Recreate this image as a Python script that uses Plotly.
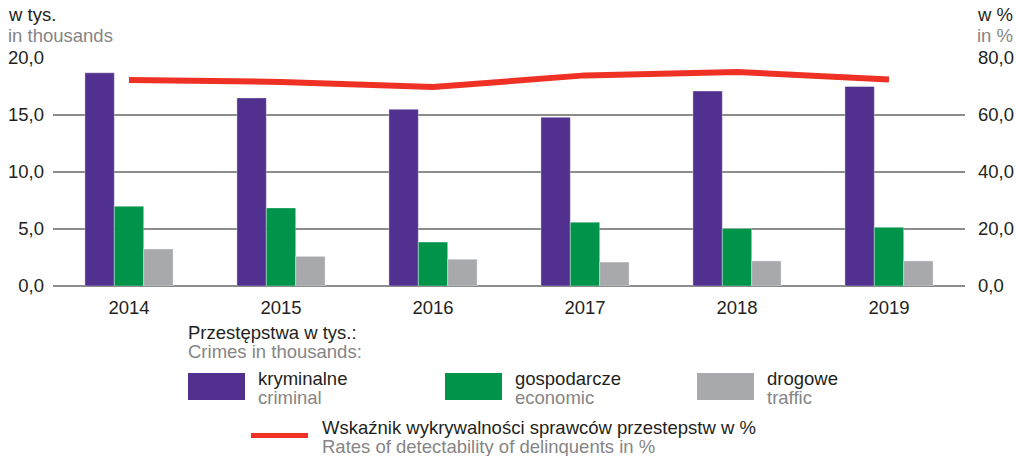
import plotly.graph_objects as go

years = ["2014", "2015", "2016", "2017", "2018", "2019"]
criminal = [18.7, 16.5, 15.5, 14.8, 17.1, 17.5]
economic = [7.0, 6.85, 3.85, 5.6, 5.05, 5.15]
traffic = [3.25, 2.6, 2.35, 2.1, 2.2, 2.2]
detect_rate = [72.3, 71.6, 69.8, 73.9, 75.1, 72.5]

left_ticks = [0, 5, 10, 15, 20]
right_ticks = [0, 20, 40, 60, 80]

PURPLE = "#51308F"
GREEN = "#00944A"
GRAY = "#A7A9AC"
RED = "#EE3124"
TXT = "#231F20"
TXT2 = "#858585"
GRID = "#8C8C8C"
FONT = "Liberation Sans, Arial, sans-serif"
FS = 18.5

W, H = 1016, 456
L, R, T, B = 53, 51, 58, 170
PW, PH = W - L - R, H - T - B


def px(x):
    return (x - L) / PW


def py(y):
    return (H - B - y) / PH


fig = go.Figure()
for name, vals, col in [("kryminalne", criminal, PURPLE),
                        ("gospodarcze", economic, GREEN),
                        ("drogowe", traffic, GRAY)]:
    fig.add_trace(go.Bar(x=years, y=vals, name=name, marker_color=col,
                         marker_line=dict(width=0.6, color="rgba(255,255,255,0.6)")))

fig.add_trace(go.Scatter(x=years, y=detect_rate, yaxis="y2", mode="lines",
                         line=dict(color=RED, width=6), name="Wskaźnik"))

fig.update_layout(
    width=W, height=H,
    margin=dict(l=L, r=R, t=T, b=B, autoexpand=False),
    paper_bgcolor="white", plot_bgcolor="white",
    barmode="group", bargap=0.42, bargroupgap=0,
    showlegend=False,
    separators=", ",
    font=dict(family=FONT, size=FS, color=TXT),
    xaxis=dict(type="category", showgrid=False, showline=False, zeroline=False,
               automargin=False,
               ticks="", tickfont=dict(size=FS, color=TXT), ticklabelstandoff=8),
    yaxis=dict(range=[0, 20], tickvals=left_ticks, tickformat=".1f",
               automargin=False,
               showgrid=True, gridcolor=GRID, gridwidth=1.6, zeroline=True,
               zerolinecolor=GRID, zerolinewidth=1.6, showline=False, ticks="",
               ticklabelstandoff=8, tickfont=dict(size=FS, color=TXT)),
    yaxis2=dict(range=[0, 80], tickvals=right_ticks, tickformat=".1f",
                automargin=False,
                overlaying="y", side="right", showgrid=False, zeroline=False,
                showline=False, ticks="", ticklabelstandoff=12,
                tickfont=dict(size=FS, color=TXT)),
)

ann = []


def text(x, y, s, color=TXT, xanchor="left", size=FS):
    ann.append(dict(x=px(x), y=py(y), xref="paper", yref="paper", text=s,
                    showarrow=False, xanchor=xanchor, yanchor="middle",
                    xshift=-2,
                    font=dict(family=FONT, size=size, color=color)))


text(8, 15, "w tys.")
text(8, 35, "in thousands", TXT2)
text(977, 15, "w %")
text(977, 35, "in %", TXT2)

text(188, 332, "Przestępstwa w tys.:")
text(188, 351, "Crimes in thousands:", TXT2)

shapes = []
for x0, lab1, lab2, col in [(188, "kryminalne", "criminal", PURPLE),
                            (445, "gospodarcze", "economic", GREEN),
                            (697, "drogowe", "traffic", GRAY)]:
    shapes.append(dict(type="rect", xref="paper", yref="paper",
                       x0=px(x0), x1=px(x0 + 57), y0=py(400), y1=py(373),
                       fillcolor=col, line=dict(width=0)))
    text(x0 + 70, 378, lab1)
    text(x0 + 70, 397, lab2, TXT2)

shapes.append(dict(type="line", xref="paper", yref="paper",
                   x0=px(251), x1=px(308), y0=py(435.5), y1=py(435.5),
                   line=dict(color=RED, width=5)))
text(322, 427, "Wskaźnik wykrywalności sprawców przestepstw w %")
text(322, 446, "Rates of detectability of delinquents in %", TXT2)

fig.update_layout(annotations=ann, shapes=shapes)
fig.write_html(
    "out.html",
    config={"displayModeBar": False},
    post_script="document.body.style.margin='0px';document.body.style.padding='0px';document.body.style.overflow='hidden';",
)
